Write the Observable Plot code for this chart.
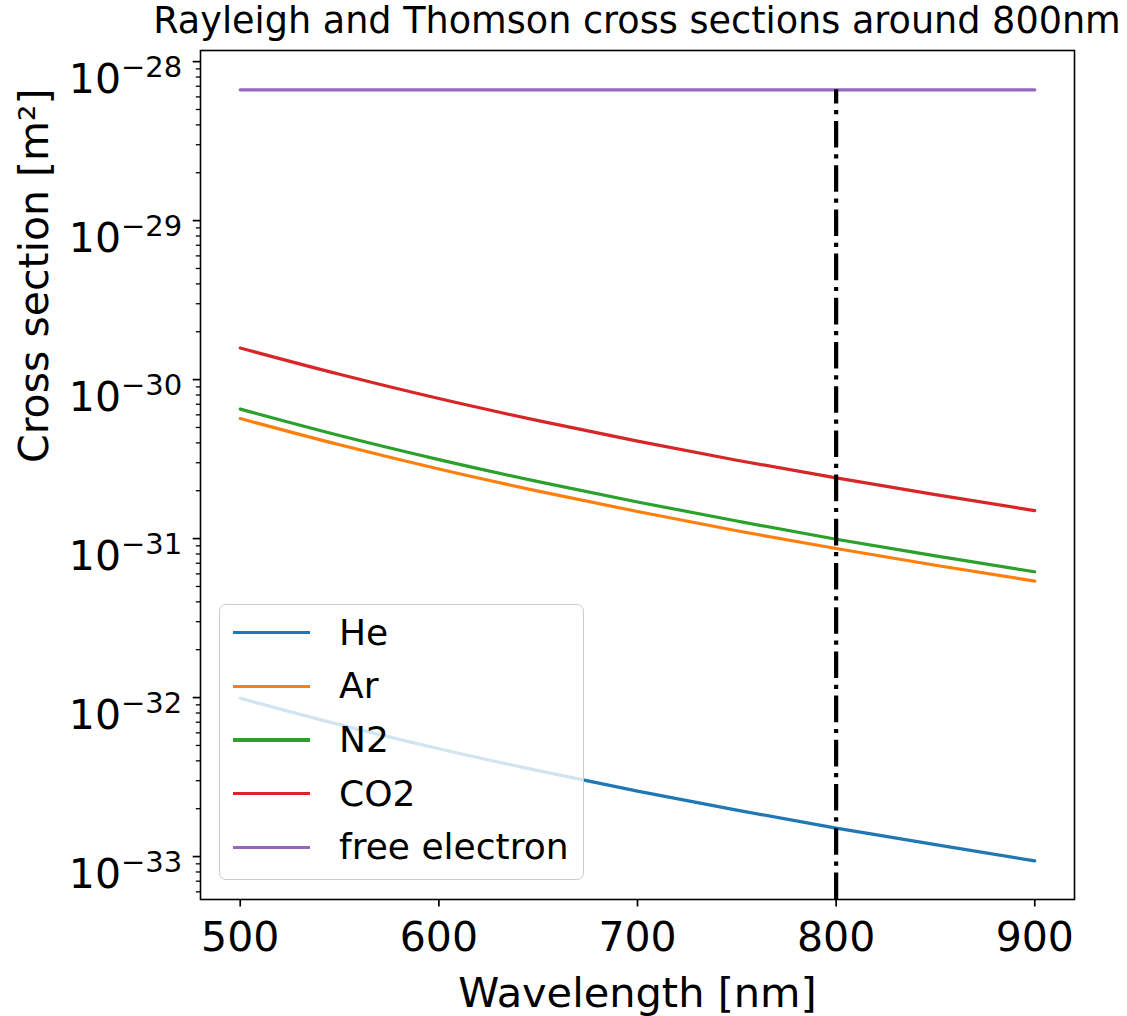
<!DOCTYPE html>
<html>
<head>
<meta charset="utf-8">
<script src="https://cdn.jsdelivr.net/npm/d3@7"></script>
<script src="https://cdn.jsdelivr.net/npm/@observablehq/plot@0.6"></script>
<style>
  body { margin: 0; background: white; font-family: "DejaVu Sans", sans-serif; }
  #fig { position: relative; width: 1127px; height: 1016px; background: white; }
  #title { position: relative; height: 44px; }
  #title span { position: absolute; left: 637px; top: 0; transform: translateX(-50%); white-space: nowrap;
    font-size: 36.6px; line-height: 41px; color: black; }
  #legend { position: absolute; left: 219px; top: 604px; width: 365px; height: 276px; box-sizing: border-box;
    background: rgba(255,255,255,0.8); border: 1.5px solid #cccccc; border-radius: 7px; }
  .row { position: absolute; left: 0; height: 40px; display: flex; align-items: center; }
  .sw { position: absolute; left: 13px; width: 77px; height: 3.2px; }
  .lab { position: absolute; left: 119px; font-size: 36px; white-space: nowrap; line-height: 40px; top: 0; }
</style>
</head>
<body>
<div id="fig">
  <div id="title"><span></span></div>
  <div id="chart"></div>
  <div id="legend"></div>
</div>
<script>
// ---- data ----
const titleText = "Rayleigh and Thomson cross sections around 800nm";
const xLabel = "Wavelength [nm]";
const yLabel = "Cross section [m²]";
const wavelength = [500, 550, 600, 650, 700, 750, 800, 850, 900];
const he       = [9.9e-33, 6.76e-33, 4.77e-33, 3.47e-33, 2.58e-33, 1.96e-33, 1.51e-33, 1.19e-33, 9.4e-34];
const ar       = [5.69e-31, 3.89e-31, 2.74e-31, 1.99e-31, 1.48e-31, 1.12e-31, 8.66e-32, 6.80e-32, 5.40e-32];
const n2       = [6.52e-31, 4.45e-31, 3.14e-31, 2.28e-31, 1.70e-31, 1.29e-31, 9.9e-32, 7.79e-32, 6.18e-32];
const co2      = [1.58e-30, 1.08e-30, 7.6e-31, 5.52e-31, 4.10e-31, 3.11e-31, 2.41e-31, 1.89e-31, 1.50e-31];
const electron = [6.65e-29, 6.65e-29, 6.65e-29, 6.65e-29, 6.65e-29, 6.65e-29, 6.65e-29, 6.65e-29, 6.65e-29];
const seriesNames = ["He", "Ar", "N2", "CO2", "free electron"];
const seriesValues = [he, ar, n2, co2, electron];
const seriesColors = ["#1f77b4", "#ff7f0e", "#2ca02c", "#d62728", "#9467bd"];
const markerWavelength = 800;
const markerTop = 6.65e-29;
const xTicks = [500, 600, 700, 800, 900];
const yTicks = [1e-28, 1e-29, 1e-30, 1e-31, 1e-32, 1e-33];
const yTickExponents = ["−28", "−29", "−30", "−31", "−32", "−33"];
const xDomain = [480, 920];
const yDomain = [Math.pow(10, -33.27), Math.pow(10, -27.93)];

// ---- build ----
const rows = [];
seriesNames.forEach((name, s) => {
  wavelength.forEach((w, i) => rows.push({gas: name, wavelength: w, value: seriesValues[s][i]}));
});
const minorTicks = [];
for (let e = -34; e <= -28; e++) {
  for (let m = 2; m <= 9; m++) {
    const v = m * Math.pow(10, e);
    if (v >= yDomain[0] && v <= yDomain[1]) minorTicks.push(v);
  }
}
const expMap = new Map(yTicks.map((t, i) => [t, yTickExponents[i]]));

document.querySelector("#title span").textContent = titleText;

const chart = Plot.plot({
  width: 1127,
  height: 972,
  marginTop: 6,
  marginBottom: 117,
  marginLeft: 200,
  marginRight: 53,
  style: {fontFamily: "DejaVu Sans", fontSize: "41px", color: "black", background: "white", overflow: "visible"},
  x: {domain: xDomain},
  y: {type: "log", domain: yDomain},
  color: {domain: seriesNames, range: seriesColors},
  marks: [
    Plot.axisX(xTicks, {tickSize: 7.5, tickPadding: 15, strokeWidth: 1.7, fontSize: 41, label: null, stroke: "black", fill: "black"}),
    Plot.axisY(yTicks, {tickSize: 7.3, tickPadding: 11, strokeWidth: 1.7, fontSize: 41, label: null,
      tickFormat: d => "10^" + expMap.get(d), stroke: "black", fill: "black"}),
    Plot.axisY(minorTicks, {tickSize: 4.2, strokeWidth: 1.3, tickFormat: () => "", label: null, stroke: "black"}),
    Plot.line(rows, {x: "wavelength", y: "value", z: "gas", stroke: "gas", strokeWidth: 3.2, curve: "monotone-x"}),
    Plot.ruleX([markerWavelength], {y1: yDomain[0], y2: markerTop, stroke: "black", strokeWidth: 4.2,
      strokeDasharray: "26.6,6.7,4.2,6.7"}),
    Plot.frame({stroke: "black", strokeWidth: 1.6}),
    Plot.text([xLabel], {text: d => d, frameAnchor: "bottom", dy: 94, fontSize: 41.5, lineAnchor: "middle", fill: "black"}),
    Plot.text([yLabel], {text: d => d, frameAnchor: "left", dx: -166, dy: -12, rotate: -90, fontSize: 41, lineAnchor: "middle", fill: "black"})
  ]
});
document.getElementById("chart").appendChild(chart);

// superscript exponents on y tick labels
d3.select(chart).selectAll('g[aria-label="y-axis tick label"] text').each(function() {
  const t = this.textContent;
  if (!t || t.indexOf("^") < 0) return;
  const [base, exp] = t.split("^");
  const sel = d3.select(this);
  sel.text(null).attr("dy", "0.44em");
  sel.append("tspan").text(base);
  sel.append("tspan").attr("dy", -16).attr("font-size", "29px").text(exp);
});

// legend
const legend = document.getElementById("legend");
seriesNames.forEach((name, i) => {
  const row = document.createElement("div");
  row.className = "row";
  row.style.top = (29.3 + 53.6 * i - 20 - 1.5) + "px";
  const sw = document.createElement("div");
  sw.className = "sw";
  sw.style.background = seriesColors[i];
  sw.style.top = (20 - 1.6) + "px";
  const lab = document.createElement("div");
  lab.className = "lab";
  lab.textContent = name;
  row.appendChild(sw);
  row.appendChild(lab);
  legend.appendChild(row);
});
</script>
</body>
</html>
